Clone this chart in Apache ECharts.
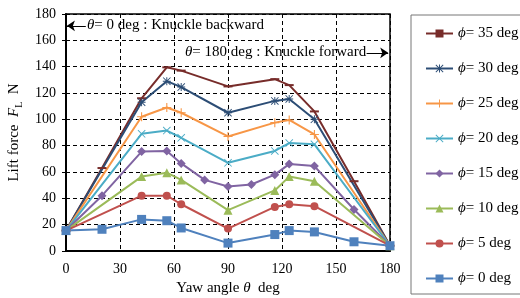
<!DOCTYPE html>
<html>
<head>
  <meta charset="utf-8">
  <script src="https://cdn.jsdelivr.net/npm/echarts@6/dist/echarts.min.js"></script>
  <style type="text/css">
    html, body { margin: 0; background-color: #fff; }
    #main { width: 520px; height: 298px; }
  </style>
</head>
<body>
  <div id="main"></div>
  <script type="text/javascript">
    // yaw angles (deg) at which points were measured; null = no point for that series
    var angles = [0, 20, 42, 56, 64, 77, 90, 103, 116, 124, 138, 160, 180];
    var phi35 = [15.5, 63, 116, 139.5, 137, null, 125, null, 130.5, 126, 106, 53, 4];
    var phi30 = [15.5, null, 113, 129, 124.5, null, 105, null, 114, 115.5, 100, null, 4];
    var phi25 = [15.5, null, 102, 109, 105, null, 87, null, 97.5, 99.5, 88.5, null, 4];
    var phi20 = [15.5, null, 89, 91.5, 86, null, 67, null, 76, 82, 81, null, 4];
    var phi15 = [15.5, 42, 75.5, 76, 66.5, 54, 49, 50.5, 58, 66, 64.5, 31.5, 4];
    var phi10 = [15.5, null, 56.5, 59.5, 54, null, 31, null, 46, 56.5, 53, null, 4];
    var phi5 = [15.5, null, 42, 42, 35.5, null, 17, null, 33.5, 35.5, 34, null, 4];
    var phi0 = [15.5, 16.5, 24, 23, 17.5, null, 6, null, 12.5, 15.5, 14.5, 7, 4];

    var serif = "'Liberation Serif', 'Times New Roman', serif";

    // marker shapes
    var dash = 'path://M0,0h10v2h-10z';
    var plus = 'path://M4.4,0h1.2v10h-1.2z M0,4.4h10v1.2h-10z';
    var cross = 'path://M0.8,0L10,9.2L9.2,10L0,0.8z M9.2,0L10,0.8L0.8,10L0,9.2z';
    var star = 'path://M4.4,0h1.2v10h-1.2z M0,4.4h10v1.2h-10z M0.8,0L10,9.2L9.2,10L0,0.8z M9.2,0L10,0.8L0.8,10L0,9.2z';

    var seriesDef = [
      { name: '35', data: phi35, color: '#772c2a', symbol: dash, size: [9, 2] },
      { name: '30', data: phi30, color: '#2c4d75', symbol: star, size: 8 },
      { name: '25', data: phi25, color: '#f79646', symbol: plus, size: 9 },
      { name: '20', data: phi20, color: '#4bacc6', symbol: cross, size: 8 },
      { name: '15', data: phi15, color: '#8064a2', symbol: 'diamond', size: 9 },
      { name: '10', data: phi10, color: '#9bbb59', symbol: 'triangle', size: 9 },
      { name: '5', data: phi5, color: '#c0504d', symbol: 'circle', size: 8 },
      { name: '0', data: phi0, color: '#4f81bd', symbol: 'rect', size: 9 }
    ];

    function pairs(vals) {
      var out = [];
      for (var i = 0; i < angles.length; i++) {
        if (vals[i] !== null) out.push([angles[i], vals[i]]);
      }
      return out;
    }

    var series = seriesDef.map(function (s) {
      return {
        name: s.name,
        type: 'line',
        data: pairs(s.data),
        symbol: s.symbol,
        symbolSize: s.size,
        showAllSymbol: true,
        lineStyle: { width: 2, color: s.color },
        itemStyle: { color: s.color },
        z: 3
      };
    });

    // annotation arrows in data coordinates
    series[0].markLine = {
      silent: true,
      symbol: ['none', 'arrow'],
      symbolSize: 8,
      label: { show: false },
      lineStyle: { color: '#000', width: 1, type: 'solid' },
      data: [
        [{ coord: [11, 171] }, { coord: [0.5, 171] }],
        [{ coord: [167, 150.5] }, { coord: [179, 150.5] }]
      ]
    };

    var myChart = echarts.init(document.getElementById('main'));

    var option = {
      animation: false,
      textStyle: { fontFamily: serif },
      grid: {
        left: 66, right: 130, top: 14, bottom: 47,
        outerBoundsMode: 'none',
        containLabel: false,
        show: true, borderColor: '#000', borderWidth: 1.5
      },
      legend: {
        orient: 'vertical',
        left: 411,
        top: 15,
        padding: [11, 10, 8, 14],
        borderColor: '#777',
        borderWidth: 1,
        itemWidth: 27,
        itemHeight: 10,
        itemGap: 20,
        textStyle: {
          fontFamily: serif, fontSize: 15, color: '#000',
          rich: { i: { fontFamily: serif, fontSize: 15, fontStyle: 'italic', color: '#000' } }
        },
        formatter: function (name) {
          return '{i|\u03d5}= ' + name + ' deg';
        },
        data: seriesDef.map(function (s) { return s.name; })
      },
      xAxis: {
        type: 'value',
        min: 0, max: 180, interval: 30,
        name: '{n|Yaw angle }{i|\u03b8}{n|  deg}',
        nameLocation: 'middle',
        nameGap: 26,
        nameTextStyle: {
          rich: {
            n: { fontFamily: serif, fontSize: 15, color: '#000' },
            i: { fontFamily: serif, fontSize: 15, fontStyle: 'italic', color: '#000' }
          }
        },
        axisLine: { lineStyle: { color: '#000', width: 2 } },
        axisTick: { show: false },
        axisLabel: { color: '#000', fontSize: 14, margin: 11, fontFamily: serif },
        splitLine: { lineStyle: { color: '#000', type: [4, 3], width: 1 } }
      },
      yAxis: {
        type: 'value',
        min: 0, max: 180, interval: 20,
        name: '{n|Lift force  }{i|F}{s|L}{n|  N}',
        nameLocation: 'middle',
        nameGap: 40,
        nameTextStyle: {
          rich: {
            n: { fontFamily: serif, fontSize: 15, color: '#000', lineHeight: 20 },
            i: { fontFamily: serif, fontSize: 15, fontStyle: 'italic', color: '#000', lineHeight: 20 },
            s: { fontFamily: serif, fontSize: 10, color: '#000', verticalAlign: 'bottom', lineHeight: 14 }
          }
        },
        axisLine: { show: true, lineStyle: { color: '#000', width: 2 } },
        axisTick: { show: true, length: 4, lineStyle: { color: '#000' } },
        axisLabel: { color: '#000', fontSize: 14, margin: 10, fontFamily: serif },
        splitLine: { lineStyle: { color: '#000', type: [4, 3], width: 1 } }
      },
      graphic: [
        {
          type: 'text', left: 87, top: 18, silent: true,
          style: {
            text: '{i|\u03b8}= 0 deg : Knuckle backward',
            font: '15px ' + serif, fill: '#000',
            rich: { i: { fontFamily: serif, fontSize: 15, fontStyle: 'italic' } }
          }
        },
        {
          type: 'text', left: 185, top: 45, silent: true,
          style: {
            text: '{i|\u03b8}= 180 deg : Knuckle forward',
            font: '15px ' + serif, fill: '#000',
            rich: { i: { fontFamily: serif, fontSize: 15, fontStyle: 'italic' } }
          }
        }
      ],
      series: series
    };

    myChart.setOption(option);
  </script>
</body>
</html>
